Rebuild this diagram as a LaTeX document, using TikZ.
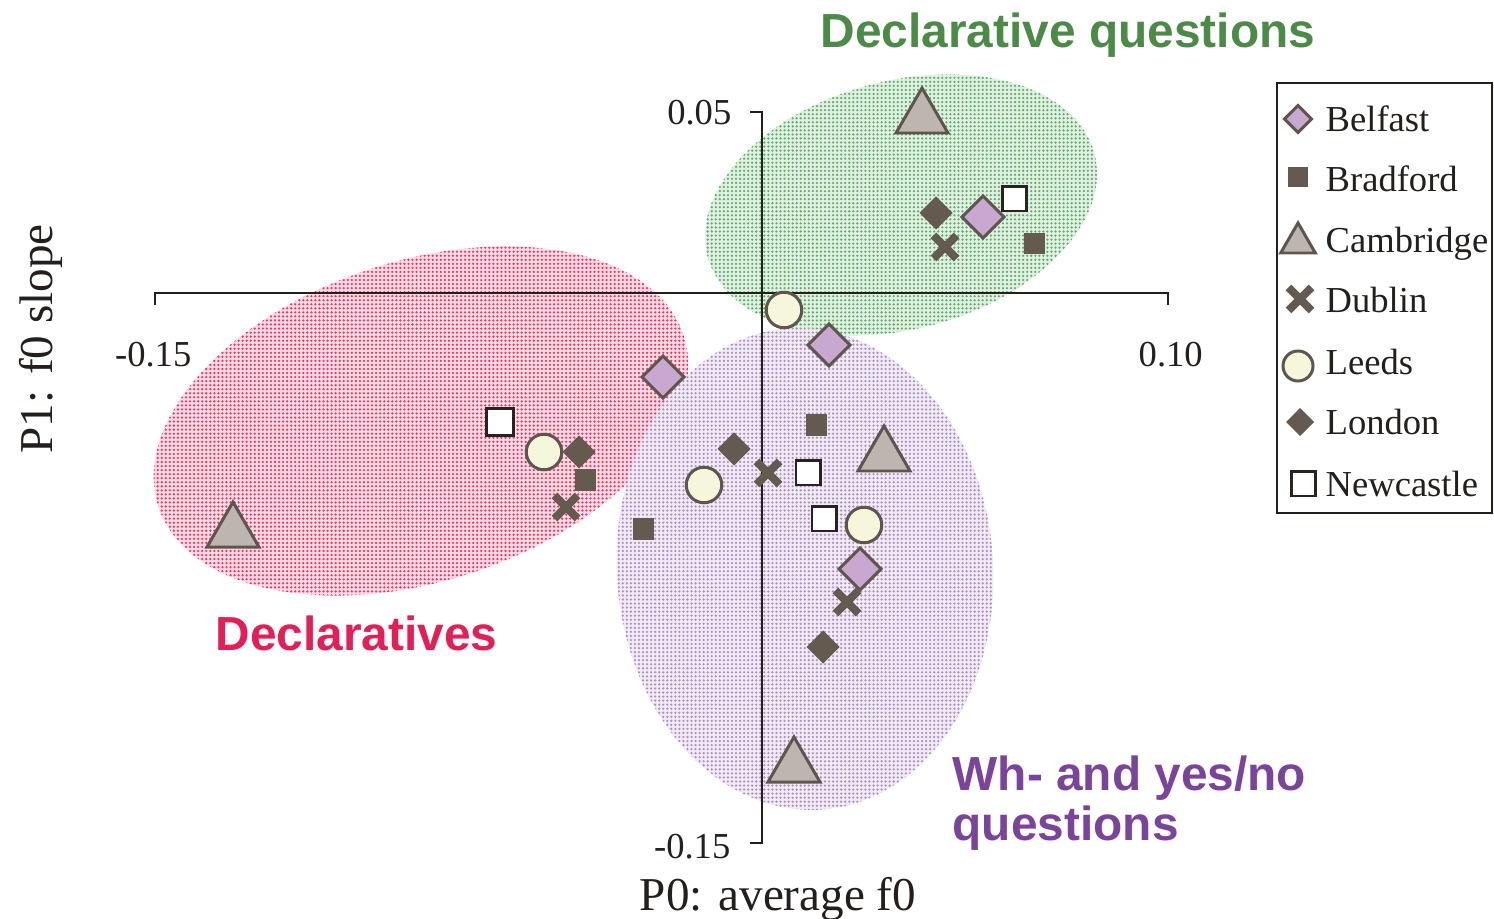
\documentclass[tikz,border=0pt]{standalone}
\usepackage{fontspec}
\setmainfont{Liberation Serif}
\newfontfamily\groupfont{Liberation Sans}
\usetikzlibrary{shapes.geometric,shapes.misc,patterns.meta,positioning}

\definecolor{edgegray}{HTML}{5E554D}
\definecolor{solidgray}{HTML}{645A50}
\definecolor{lilac}{HTML}{C8A8D1}
\definecolor{trifill}{HTML}{BDB5AF}
\definecolor{leedsfill}{HTML}{F6F6DC}
\definecolor{newedge}{HTML}{28231E}
\definecolor{inkcol}{HTML}{231F1C}
\definecolor{dotpink}{HTML}{E8386B}
\definecolor{dotgreen}{HTML}{5FAE6B}
\definecolor{dotpurple}{HTML}{B08FC8}
\definecolor{qgreen}{HTML}{4C8A47}
\definecolor{dpink}{HTML}{E02158}
\definecolor{whpurple}{HTML}{7B449B}

\tikzset{
  region/.style={preaction={fill=#1!18}, pattern={Dots[radius=0.36pt, distance=1.15pt]}, pattern color=#1},
  axis/.style={draw=inkcol, line width=0.4pt},
  ticklab/.style={inner sep=0pt, text=inkcol, font=\fontsize{10.4}{12}\selectfont},
  axtitle/.style={inner sep=0pt, text=inkcol, font=\fontsize{13.4}{16}\selectfont},
  grouplab/.style={inner sep=0pt, font=\groupfont\bfseries\fontsize{13.6}{14.2}\selectfont},
  legtext/.style={inner sep=0pt, text=inkcol, anchor=base west, font=\fontsize{10.4}{12}\selectfont},
  dotmark/.style={inner sep=0pt, outer sep=0pt, line width=0.85pt},
  belfast/.style={dotmark, diamond, draw=edgegray, fill=lilac, minimum size=#1},
  belfast/.default=0.42cm,
  bradford/.style={dotmark, rectangle, fill=solidgray, minimum size=#1},
  bradford/.default=0.21cm,
  cambridge/.style={dotmark, regular polygon, regular polygon sides=3, draw=edgegray, fill=trifill, minimum size=#1},
  cambridge/.default=0.6cm,
  dublin/.style={dotmark, cross out, draw=solidgray, line width=2.3pt, minimum size=0.23cm},
  leeds/.style={dotmark, circle, draw=edgegray, fill=leedsfill, minimum size=#1},
  leeds/.default=0.355cm,
  london/.style={dotmark, diamond, fill=solidgray, minimum size=#1},
  london/.default=0.33cm,
  newcastle/.style={dotmark, rectangle, draw=newedge, fill=white, minimum size=#1},
  newcastle/.default=0.24cm
}

\begin{document}
\begin{tikzpicture}[x=0.01cm, y=-0.01cm]
\useasboundingbox (0,0) rectangle (1494,919);

% group regions
\begin{scope}[shift={(901,205)}, rotate=15]
  \path[region=dotgreen] (0,0) ellipse [x radius=2cm, y radius=1.24cm];
\end{scope}
\begin{scope}[shift={(421,421)}, rotate=18]
  \path[region=dotpink] (0,0) ellipse [x radius=2.76cm, y radius=1.6cm];
\end{scope}
\begin{scope}[shift={(805,569)}, rotate=4]
  \path[region=dotpurple] (0,0) ellipse [x radius=1.88cm, y radius=2.41cm];
\end{scope}

% axes
\coordinate (xl) at (155,293);
\coordinate (xr) at (1168,293);
\coordinate (yt) at (762,112);
\coordinate (yb) at (762,843);
\draw[axis] ([yshift=-0.12cm]xl) -- (xl) -- (xr) -- ([yshift=-0.12cm]xr);
\draw[axis] ([xshift=-0.12cm]yt) -- (yt) -- (yb) -- ([xshift=-0.12cm]yb);

\node[ticklab, anchor=base east] (xmin) at (192,367) {-0.15};
\node[ticklab, anchor=base west] (xmax) at (1138,367) {0.10};
\node[ticklab, anchor=base east] (ymax) at (732,125) {0.05};
\node[ticklab, anchor=base east] (ymin) at (731,858) {-0.15};
\node[axtitle, anchor=base] (xtitle) at (778,910) {P0: average f0};
\node[axtitle, rotate=90, anchor=base] (ytitle) at (52,339) {P1: f0 slope};

% group labels
\node[grouplab, text=qgreen, anchor=base west] (dqlab) at (820,48) {Declarative questions};
\node[grouplab, text=dpink, anchor=base west] (dlab) at (215,650) {Declaratives};
\node[grouplab, text=whpurple, anchor=base west, align=left] (whlab) at (952,840) {Wh- and yes/no\\questions};

% declarative questions
\node[cambridge] (dq-cam) at (922,118) {};
\node[london] (dq-lon) at (936,213) {};
\node[belfast] (dq-bel) at (983,217) {};
\node[newcastle] (dq-new) at (1014,199) {};
\node[dublin] (dq-dub) at (945,247) {};
\node[bradford] (dq-bra) at (1034,244) {};

% declaratives
\node[belfast] (d-bel) at (663,377) {};
\node[newcastle=0.27cm] (d-new) at (500,422) {};
\node[leeds] (d-lee) at (544,452) {};
\node[london] (d-lon) at (579,452) {};
\node[bradford] (d-bra) at (585,480) {};
\node[dublin] (d-dub) at (566,507) {};
\node[cambridge] (d-cam) at (233,532) {};

% wh- and yes/no questions
\node[leeds] (wh-lee1) at (784,310) {};
\node[belfast] (wh-bel1) at (829,345) {};
\node[bradford] (wh-bra1) at (816,425) {};
\node[cambridge] (wh-cam1) at (884,456) {};
\node[london] (wh-lon1) at (734,449) {};
\node[dublin] (wh-dub1) at (768,473) {};
\node[newcastle] (wh-new1) at (808,473) {};
\node[leeds] (wh-lee2) at (704,485) {};
\node[newcastle] (wh-new2) at (824,519) {};
\node[leeds] (wh-lee3) at (864,525) {};
\node[bradford] (wh-bra2) at (643,529) {};
\node[belfast] (wh-bel2) at (860,569) {};
\node[dublin] (wh-dub2) at (847,602) {};
\node[london] (wh-lon2) at (823,647) {};
\node[cambridge] (wh-cam2) at (794,767) {};

% legend
\draw[draw=inkcol, line width=0.35pt] (1277,83) rectangle (1492,513);
\node[belfast=0.27cm] (leg-bel) at (1298,119) {};
\node[bradford=0.2cm] (leg-bra) at (1298,177) {};
\node[cambridge=0.4cm] (leg-cam) at (1298,243) {};
\node[dublin] (leg-dub) at (1300,299) {};
\node[leeds=0.3cm] (leg-lee) at (1298,366) {};
\node[london=0.28cm] (leg-lon) at (1300,422) {};
\node[newcastle] (leg-new) at (1303,484) {};
\node[legtext] (legt-bel) at (1325,132) {Belfast};
\node[legtext] (legt-bra) at (1325,192) {Bradford};
\node[legtext] (legt-cam) at (1325,253) {Cambridge};
\node[legtext] (legt-dub) at (1325,313) {Dublin};
\node[legtext] (legt-lee) at (1325,375) {Leeds};
\node[legtext] (legt-lon) at (1325,435) {London};
\node[legtext] (legt-new) at (1325,497) {Newcastle};

\end{tikzpicture}
\end{document}
